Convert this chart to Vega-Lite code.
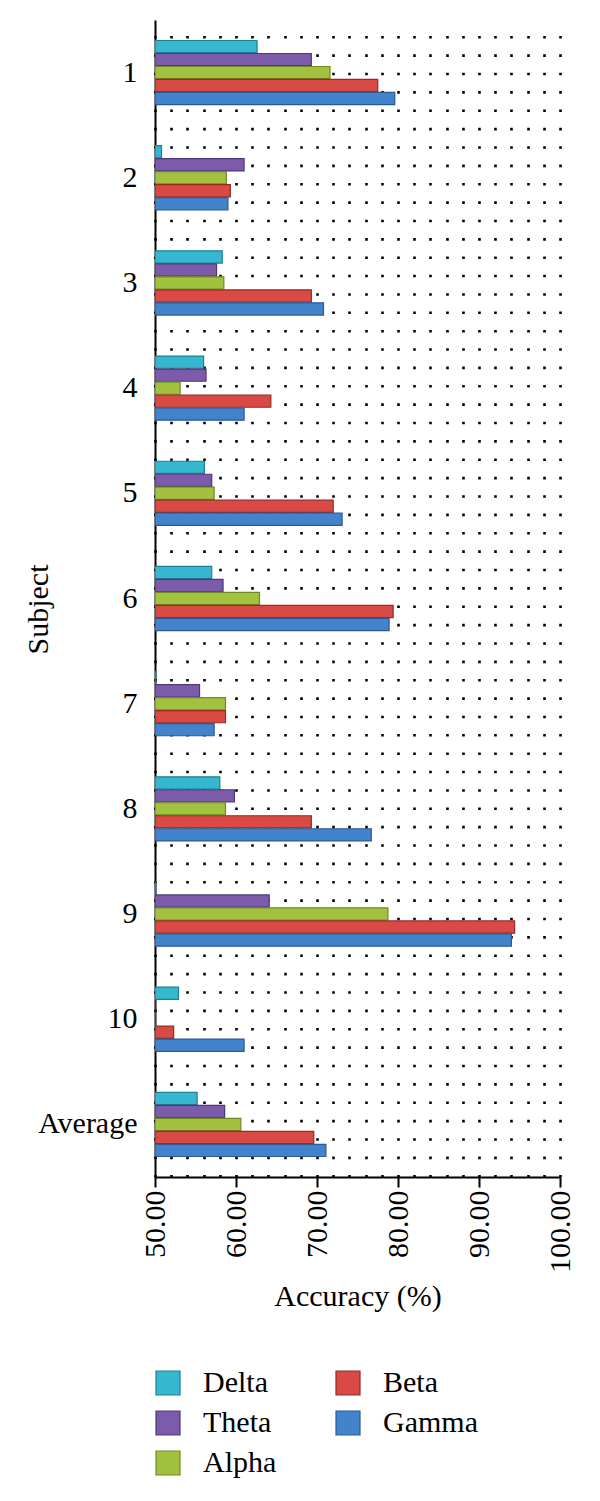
{
  "$schema": "https://vega.github.io/schema/vega-lite/v6.json",
  "width": 405,
  "height": 1157,
  "autosize": {"type": "none"},
  "padding": {"left": 155, "top": 20, "right": 40, "bottom": 324},
  "background": "white",
  "config": {
    "view": {"stroke": null},
    "font": "Liberation Serif"
  },
  "data": {
    "values": [
      {"subject": "1", "band": "Delta", "value": 62.6},
      {"subject": "1", "band": "Theta", "value": 69.3},
      {"subject": "1", "band": "Alpha", "value": 71.6},
      {"subject": "1", "band": "Beta", "value": 77.5},
      {"subject": "1", "band": "Gamma", "value": 79.6},
      {"subject": "2", "band": "Delta", "value": 50.8},
      {"subject": "2", "band": "Theta", "value": 61.0},
      {"subject": "2", "band": "Alpha", "value": 58.8},
      {"subject": "2", "band": "Beta", "value": 59.3},
      {"subject": "2", "band": "Gamma", "value": 59.0},
      {"subject": "3", "band": "Delta", "value": 58.3},
      {"subject": "3", "band": "Theta", "value": 57.6},
      {"subject": "3", "band": "Alpha", "value": 58.5},
      {"subject": "3", "band": "Beta", "value": 69.3},
      {"subject": "3", "band": "Gamma", "value": 70.8},
      {"subject": "4", "band": "Delta", "value": 56.0},
      {"subject": "4", "band": "Theta", "value": 56.3},
      {"subject": "4", "band": "Alpha", "value": 53.1},
      {"subject": "4", "band": "Beta", "value": 64.3},
      {"subject": "4", "band": "Gamma", "value": 61.0},
      {"subject": "5", "band": "Delta", "value": 56.1},
      {"subject": "5", "band": "Theta", "value": 57.0},
      {"subject": "5", "band": "Alpha", "value": 57.3},
      {"subject": "5", "band": "Beta", "value": 72.0},
      {"subject": "5", "band": "Gamma", "value": 73.1},
      {"subject": "6", "band": "Delta", "value": 57.0},
      {"subject": "6", "band": "Theta", "value": 58.4},
      {"subject": "6", "band": "Alpha", "value": 62.9},
      {"subject": "6", "band": "Beta", "value": 79.4},
      {"subject": "6", "band": "Gamma", "value": 78.9},
      {"subject": "7", "band": "Delta", "value": 50.1},
      {"subject": "7", "band": "Theta", "value": 55.5},
      {"subject": "7", "band": "Alpha", "value": 58.7},
      {"subject": "7", "band": "Beta", "value": 58.7},
      {"subject": "7", "band": "Gamma", "value": 57.3},
      {"subject": "8", "band": "Delta", "value": 58.0},
      {"subject": "8", "band": "Theta", "value": 59.8},
      {"subject": "8", "band": "Alpha", "value": 58.7},
      {"subject": "8", "band": "Beta", "value": 69.3},
      {"subject": "8", "band": "Gamma", "value": 76.7},
      {"subject": "9", "band": "Delta", "value": 50.1},
      {"subject": "9", "band": "Theta", "value": 64.1},
      {"subject": "9", "band": "Alpha", "value": 78.75},
      {"subject": "9", "band": "Beta", "value": 94.4},
      {"subject": "9", "band": "Gamma", "value": 94.0},
      {"subject": "10", "band": "Delta", "value": 52.9},
      {"subject": "10", "band": "Theta", "value": 48.0},
      {"subject": "10", "band": "Alpha", "value": 48.0},
      {"subject": "10", "band": "Beta", "value": 52.3},
      {"subject": "10", "band": "Gamma", "value": 61.0},
      {"subject": "Average", "band": "Delta", "value": 55.2},
      {"subject": "Average", "band": "Theta", "value": 58.6},
      {"subject": "Average", "band": "Alpha", "value": 60.6},
      {"subject": "Average", "band": "Beta", "value": 69.6},
      {"subject": "Average", "band": "Gamma", "value": 71.1}
    ]
  },
  "mark": {"type": "bar", "clip": true, "strokeWidth": 1.2},
  "encoding": {
    "y": {
      "field": "subject",
      "type": "nominal",
      "sort": ["1", "2", "3", "4", "5", "6", "7", "8", "9", "10", "Average"],
      "scale": {"paddingInner": 0.39, "paddingOuter": 0.195},
      "axis": {
        "title": "Subject",
        "titleFont": "Liberation Serif",
        "titleFontSize": 30,
        "titleFontWeight": "normal",
        "titleColor": "black",
        "titleAngle": 270,
        "titleBaseline": "alphabetic",
        "titleAlign": "center",
        "titleX": -108,
        "titleY": 589,
        "labelFont": "Liberation Serif",
        "labelFontSize": 30,
        "labelColor": "black",
        "labelPadding": 18,
        "ticks": false,
        "domainColor": "black",
        "domainWidth": 2,
        "grid": false
      }
    },
    "yOffset": {
      "field": "band",
      "type": "nominal",
      "sort": ["Delta", "Theta", "Alpha", "Beta", "Gamma"],
      "scale": {"domain": ["Delta", "Theta", "Alpha", "Beta", "Gamma"], "paddingInner": 0.06, "paddingOuter": 0}
    },
    "x": {
      "field": "value",
      "type": "quantitative",
      "scale": {"domain": [50, 100], "nice": false, "zero": false},
      "axis": {
        "title": "Accuracy (%)",
        "titleFont": "Liberation Serif",
        "titleFontSize": 30,
        "titleFontWeight": "normal",
        "titleColor": "black",
        "titleBaseline": "alphabetic",
        "titleY": 128,
        "values": [50, 52, 54, 56, 58, 60, 62, 64, 66, 68, 70, 72, 74, 76, 78, 80, 82, 84, 86, 88, 90, 92, 94, 96, 98, 100],
        "labelExpr": "datum.value % 10 === 0 ? format(datum.value, '.2f') : ''",
        "labelAngle": 270,
        "labelFont": "Liberation Serif",
        "labelFontSize": 30,
        "labelColor": "black",
        "labelPadding": 3,
        "labelOverlap": false,
        "labelFlush": false,
        "labelBound": false,
        "tickSize": 10,
        "tickWidth": 2,
        "tickColor": "black",
        "tickOpacity": {"condition": {"test": "datum.value % 10 === 0", "value": 1}, "value": 0},
        "domainColor": "black",
        "domainWidth": 2,
        "grid": true,
        "gridColor": "black",
        "gridWidth": 2.6,
        "gridOpacity": 1,
        "gridDash": [2.6, 15.77]
      }
    },
    "x2": {"datum": 50},
    "fill": {
      "field": "band",
      "type": "nominal",
      "scale": {
        "domain": ["Delta", "Theta", "Alpha", "Beta", "Gamma"],
        "range": ["#35b8cf", "#7d5bab", "#a2c23f", "#d94a44", "#4383cc"]
      },
      "legend": {
        "title": null,
        "orient": "none",
        "legendX": -2,
        "legendY": 1348,
        "columns": 2,
        "columnPadding": 56,
        "rowPadding": 10,
        "padding": 0,
        "symbolType": "square",
        "symbolSize": 576,
        "symbolStrokeWidth": 1.2,
        "labelFont": "Liberation Serif",
        "labelFontSize": 30,
        "labelColor": "black",
        "labelOffset": 20
      }
    },
    "stroke": {
      "field": "band",
      "type": "nominal",
      "scale": {
        "domain": ["Delta", "Theta", "Alpha", "Beta", "Gamma"],
        "range": ["#1f7f90", "#4f3878", "#6e8a25", "#932b27", "#2b5a94"]
      },
      "legend": null
    }
  }
}
